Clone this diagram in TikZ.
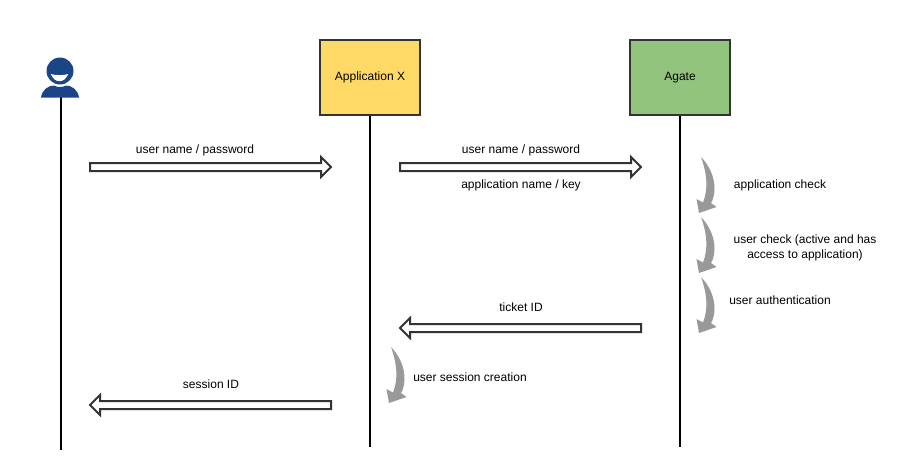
\documentclass[tikz,border=0pt]{standalone}
\usepackage{fontspec}
\setmainfont{Liberation Sans}
\definecolor{edgegray}{HTML}{333333}
\definecolor{swoosh}{HTML}{999999}
\definecolor{personblue}{HTML}{1A4587}
\definecolor{appyellow}{HTML}{FFD966}
\definecolor{agategreen}{HTML}{93C47D}
\tikzset{
  actorbox/.style={draw=edgegray,line width=1.5pt,minimum width=75pt,minimum height=56.25pt,inner sep=0pt,font=\fontsize{9}{11}\selectfont},
  lifeline/.style={line width=1.5pt,black},
  lbl/.style={font=\fontsize{9}{11.25}\selectfont,align=center,inner sep=0pt,text=black},
  block/.style={draw=edgegray,line width=1.5pt,fill=white,line join=miter},
  swooshfill/.style={fill=swoosh,draw=none},
  pics/rightblock/.style={code={
    \path[block] (0,-4) -- (231,-4) -- (231,-10) -- (241,0) -- (231,10) -- (231,4) -- (0,4) -- cycle;}},
  pics/leftblock/.style={code={
    \path[block] (0,-4) -- (-231,-4) -- (-231,-10) -- (-241,0) -- (-231,10) -- (-231,4) -- (0,4) -- cycle;}},
  pics/curved/.style={code={
    \path[swooshfill] (0,0) .. controls (8,8) and (13.5,20) .. (13.5,31) .. controls (13.5,37) and (12.5,42) .. (10,46)
      -- (15.5,50) -- (-2,56) -- (-4.5,42) -- (2,45.5) .. controls (7,33) and (6.5,18) .. (0,0) -- cycle;}}
}
\begin{document}
\begin{tikzpicture}[x=0.75pt,y=-0.75pt]
\useasboundingbox (0,0) rectangle (898,475);
% actors
\node[actorbox,fill=appyellow] (app) at (370,77.5) {Application X};
\node[actorbox,fill=agategreen] (agate) at (680,77.5) {Agate};
\coordinate (person) at (61,97);
\coordinate (personend) at (61,450);
\coordinate (append) at (app.south |- 0,447);
\coordinate (agateend) at (agate.south |- 0,447);
\draw[lifeline] (person) -- (personend);
\draw[lifeline] (app.south) -- (append);
\draw[lifeline] (agate.south) -- (agateend);
% person icon
\fill[personblue] (41,97.5) .. controls (42,90) and (48,85.5) .. (54,85.5)
  .. controls (57,87.5) and (63,87.5) .. (66,85.5) .. controls (72,85.5) and (78,90) .. (79,97.5) -- cycle;
\fill[personblue] (60,71) circle[radius=13.5];
\fill[white] (50.7,74) .. controls (53,79) and (56,81.2) .. (59.5,81.2) .. controls (63,81.2) and (66,79) .. (68.3,74)
  .. controls (63,75.5) and (56,75.5) .. (50.7,74) -- cycle;
% block arrows
\pic at (90,167) {rightblock};
\pic at (400,167) {rightblock};
\pic at (641,328) {leftblock};
\pic at (331,405) {leftblock};
% curved arrows
\pic at (701,157) {curved};
\pic at (701,217) {curved};
\pic at (701,277) {curved};
\pic at (391,347) {curved};
% labels
\node[lbl] (l1) at (195,150) {user name / password};
\node[lbl] (l2) at (521,150) {user name / password};
\node[lbl] (l3) at (521,185) {application name / key};
\node[lbl] (l4) at (780,185) {application check};
\node[lbl] (l5) at (805,248) {user check (active and has\\access to application)};
\node[lbl] (l6) at (780,300) {user authentication};
\node[lbl] (l7) at (521,307) {ticket ID};
\node[lbl] (l8) at (470,377) {user session creation};
\node[lbl] (l9) at (211,384) {session ID};
\end{tikzpicture}
\end{document}
